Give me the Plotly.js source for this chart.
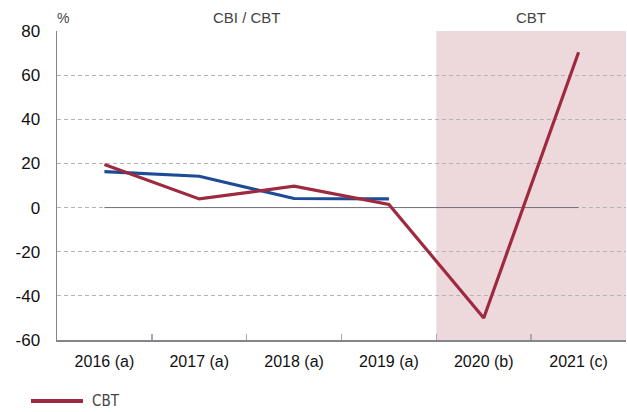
<!DOCTYPE html>
<html><head><meta charset="utf-8">
<script src="https://cdn.plot.ly/plotly-3.0.1.min.js"></script>
<style>html,body{margin:0;padding:0;background:#fff}#chart{width:627px;height:412px}</style>
</head><body><div id="chart"></div>
<script>
const categories = ["2016 (a)", "2017 (a)", "2018 (a)", "2019 (a)", "2020 (b)", "2021 (c)"];
const cbiCbt = [16.3, 14.2, 4.1, 3.9];
const cbt = [19.5, 3.9, 9.7, 1.4, -50, 70.4];
const zeroLine = [0, 0, 0, 0, 0, 0];
const yTickVals = [-60, -40, -20, 0, 20, 40, 60, 80];
const yTickText = ["-60", "-40", "-20", "0", "20", "40", "60", "80"];
const regionLabels = ["CBI / CBT", "CBT"];
const legendLabel = "CBT";

const RED = '#9e2a3f', BLUE = '#1d4b95';

const traces = [
  {x: categories, y: zeroLine, mode: 'lines', line: {color: '#707080', width: 1}, showlegend: false, hoverinfo: 'skip'},
  {x: categories.slice(0, 4), y: cbiCbt, mode: 'lines', name: 'CBI / CBT', line: {color: BLUE, width: 3.2}, showlegend: false},
  {x: categories, y: cbt, mode: 'lines', name: legendLabel, line: {color: RED, width: 3.2}, showlegend: false}
];

const layout = {
  width: 627, height: 412,
  margin: {l: 57, r: 1, t: 31, b: 72},
  paper_bgcolor: '#fff', plot_bgcolor: 'rgba(0,0,0,0)',
  font: {family: 'Liberation Sans, Arial, sans-serif', color: '#111', size: 16},
  showlegend: false,
  xaxis: {
    type: 'category', range: [-0.5, 5.5],
    showline: true, linecolor: '#858590', linewidth: 1.5,
    ticks: 'inside', tickson: 'boundaries', ticklen: 6, tickcolor: '#aaa', tickwidth: 1.5,
    showgrid: false, zeroline: false,
    tickfont: {size: 16, color: '#111'}, ticklabelstandoff: 6
  },
  yaxis: {
    range: [-60, 80], tickmode: 'array', tickvals: yTickVals, ticktext: yTickText,
    showline: true, linecolor: '#858590', linewidth: 1.5,
    showgrid: true, gridcolor: '#b4b4b4', griddash: '4px,3px', gridwidth: 1,
    zeroline: false, ticks: '', tickfont: {size: 17, color: '#111'}, ticklabelstandoff: 12
  },
  shapes: [
    {type: 'rect', xref: 'x', yref: 'paper', x0: 3.5, x1: 5.5, y0: 0, y1: 1,
     fillcolor: '#edd8dc', line: {width: 0}, layer: 'below'},
    {type: 'line', xref: 'paper', yref: 'paper', x0: (31 - 57) / 569, x1: (83 - 57) / 569,
     y0: -61 / 309, y1: -61 / 309, line: {color: RED, width: 4}}
  ],
  annotations: [
    {text: '%', xref: 'paper', yref: 'paper', x: -0.004, y: 1, xanchor: 'left', yanchor: 'bottom', yshift: 3, showarrow: false, font: {size: 14, color: '#444'}},
    {text: regionLabels[0], xref: 'x', yref: 'paper', x: 1.5, y: 1, yanchor: 'bottom', yshift: 3, showarrow: false, font: {size: 15, color: '#444'}},
    {text: regionLabels[1], xref: 'x', yref: 'paper', x: 4.5, y: 1, yanchor: 'bottom', yshift: 3, showarrow: false, font: {size: 15, color: '#444'}},
    {text: legendLabel, xref: 'paper', yref: 'paper', x: (90 - 57) / 569, y: -61 / 309, xanchor: 'left', yanchor: 'middle', showarrow: false,
     font: {family: 'Liberation Sans Narrow, DejaVu Sans Condensed, Liberation Sans, sans-serif', size: 15, color: '#444'}}
  ]
};

Plotly.newPlot('chart', traces, layout, {displayModeBar: false, staticPlot: true});
</script>
</body></html>
